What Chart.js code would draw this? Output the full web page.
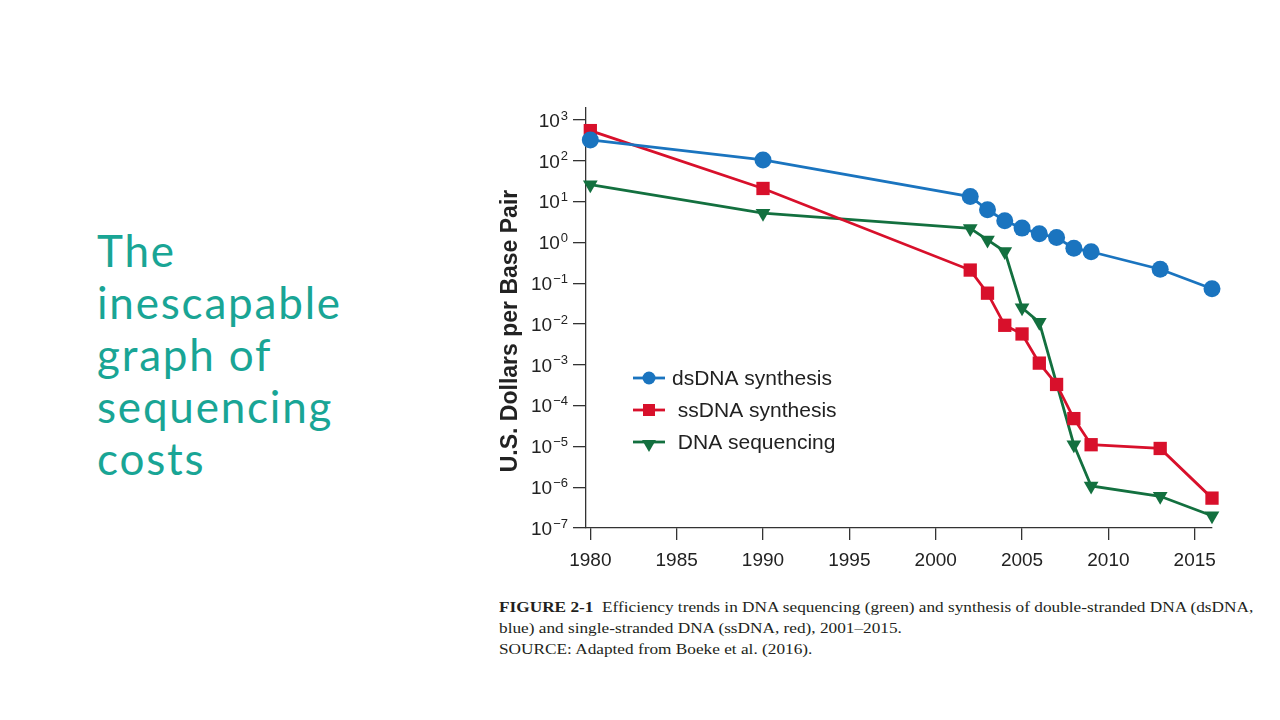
<!DOCTYPE html>
<html>
<head>
<meta charset="utf-8">
<script src="https://cdn.jsdelivr.net/npm/chart.js@4.4.1/dist/chart.umd.min.js"></script>
<style>
  body { margin: 0; width: 1280px; height: 720px; background: #fff; position: relative; overflow: hidden; }
  #heading {
    position: absolute; left: 97px; top: 224px;
    font-family: Lato, "Open Sans", sans-serif; font-size: 44px; line-height: 52px;
    letter-spacing: 1.8px; color: #19a595;
  }
  #chart-wrap { position: absolute; left: 490px; top: 96px; width: 750px; height: 484px; }
  #caption {
    position: absolute; left: 499px; top: 597px;
    font-family: "Liberation Serif", "Times New Roman", serif; font-size: 15px; line-height: 21px;
    color: #231f20; white-space: nowrap;
    transform: scaleX(1.15); transform-origin: left top;
  }
</style>
</head>
<body>
<div id="heading">The<br>inescapable<br>graph of<br>sequencing<br>costs</div>
<div id="chart-wrap"><canvas id="cost-chart" width="750" height="484"></canvas></div>
<div id="caption"><b>FIGURE 2-1</b>&nbsp; Efficiency trends in DNA sequencing (green) and synthesis of double-stranded DNA (dsDNA,<br>blue) and single-stranded DNA (ssDNA, red), 2001–2015.<br>SOURCE: Adapted from Boeke et al. (2016).</div>

<script>
// Cost per base pair (USD)
const dsYears = [1980, 1990, 2002, 2003, 2004, 2005, 2006, 2007, 2008, 2009, 2013, 2016];
const dsCost = [324, 105, 13.3, 6.3, 3.4, 2.24, 1.62, 1.32, 0.72, 0.59, 0.22, 0.073];

const ssYears = [1980, 1990, 2002, 2003, 2004, 2005, 2006, 2007, 2008, 2009, 2013, 2016];
const ssCost = [550, 21, 0.21, 0.057, 0.0093, 0.0057, 0.0011, 0.00033, 0.000048, 0.000011, 0.0000089, 0.00000054];

const seqYears = [1980, 1990, 2002, 2003, 2004, 2005, 2006, 2008, 2009, 2013, 2016];
const seqCost = [26, 5.2, 2.2, 1.15, 0.6, 0.025, 0.011, 0.000011, 0.00000107, 0.0000006, 0.0000002];

const seriesLabels = ["dsDNA synthesis", " ssDNA synthesis", " DNA sequencing"];
const seriesColors = ["#1a74bf", "#d8102b", "#13703f"];
const seriesMarkers = ["circle", "rect", "triangle"];

const xTicks = [1980, 1985, 1990, 1995, 2000, 2005, 2010, 2015];
const yTickExps = [-7, -6, -5, -4, -3, -2, -1, 0, 1, 2, 3];

const axisColor = "#333";
const sansFont = "'Liberation Sans', Arial, Helvetica, sans-serif";

function toPoints(xs, ys) {
  return xs.map((x, i) => ({ x: x, y: ys[i] }));
}

// y tick labels as 10 with a raised exponent
const powerLabels = {
  id: "powerLabels",
  afterDraw(chart) {
    const ctx = chart.ctx;
    const yScale = chart.scales.y;
    ctx.save();
    ctx.fillStyle = "#222";
    ctx.textBaseline = "middle";
    ctx.textAlign = "left";
    const right = yScale.right - 18;
    yScale.ticks.forEach(t => {
      const py = yScale.getPixelForValue(t.value);
      const exp = Math.round(Math.log10(t.value)).toString().replace("-", "\u2212");
      ctx.font = "13px " + sansFont;
      const ew = ctx.measureText(exp).width;
      ctx.font = "19px " + sansFont;
      const bw = ctx.measureText("10").width;
      ctx.fillText("10", right - ew - 1 - bw, py + 1.5);
      ctx.font = "13px " + sansFont;
      ctx.fillText(exp, right - ew, py - 4);
    });
    ctx.restore();
  }
};

// rotated y axis title
const yTitle = {
  id: "yTitle",
  afterDraw(chart) {
    const ctx = chart.ctx;
    ctx.save();
    ctx.translate(27, 235);
    ctx.rotate(-Math.PI / 2);
    ctx.font = "bold 23px " + sansFont;
    ctx.fillStyle = "#222";
    ctx.textAlign = "center";
    ctx.textBaseline = "alphabetic";
    ctx.fillText("U.S. Dollars per Base Pair", 0, 0);
    ctx.restore();
  }
};

// legend drawn inside the plot: line + marker + label
const insideLegend = {
  id: "insideLegend",
  afterDraw(chart) {
    const ctx = chart.ctx;
    const area = chart.chartArea;
    const x0 = area.left + 47;
    const y0 = area.top + 270;
    const markerSize = [6.5, 8.5, 8];
    ctx.save();
    seriesLabels.forEach((label, i) => {
      const y = y0 + i * 32;
      ctx.strokeStyle = seriesColors[i];
      ctx.lineWidth = 2.8;
      ctx.beginPath();
      ctx.moveTo(x0, y);
      ctx.lineTo(x0 + 32, y);
      ctx.stroke();
      ctx.fillStyle = seriesColors[i];
      Chart.helpers.drawPoint(ctx, {
        pointStyle: seriesMarkers[i],
        radius: markerSize[i],
        rotation: seriesMarkers[i] === "triangle" ? 180 : 0,
        borderWidth: 0
      }, x0 + 16, i === 2 ? y + 2 : y);
      ctx.fillStyle = "#222";
      ctx.font = "21px " + sansFont;
      ctx.textAlign = "left";
      ctx.textBaseline = "middle";
      ctx.fillText(label, x0 + 39, y + 1);
    });
    ctx.restore();
  }
};

function lineSet(i, xs, ys, radius) {
  return {
    label: seriesLabels[i].trim(),
    data: toPoints(xs, ys),
    borderColor: seriesColors[i],
    backgroundColor: seriesColors[i],
    borderWidth: 2.8,
    pointStyle: seriesMarkers[i],
    pointRadius: radius,
    pointHoverRadius: radius,
    pointBorderWidth: 0,
    pointRotation: seriesMarkers[i] === "triangle" ? 180 : 0,
    tension: 0,
    clip: false
  };
}

const costChart = new Chart(document.getElementById("cost-chart"), {
  type: "line",
  data: {
    datasets: [
      lineSet(0, dsYears, dsCost, 8.5),
      lineSet(1, ssYears, ssCost, 9.4),
      lineSet(2, seqYears, seqCost, 8.5)
    ]
  },
  options: {
    responsive: false,
    animation: false,
    devicePixelRatio: 1,
    layout: { padding: { left: 0, top: 12, right: 28, bottom: 0 } },
    plugins: {
      legend: { display: false },
      tooltip: { enabled: false }
    },
    scales: {
      x: {
        type: "linear",
        min: 1979.75,
        max: 2016,
        afterBuildTicks: scale => { scale.ticks = xTicks.map(v => ({ value: v })); },
        afterFit: scale => { scale.height = 52; },
        border: { display: true, color: axisColor, width: 1.3 },
        grid: { drawOnChartArea: false, drawTicks: true, tickLength: 12, color: axisColor, lineWidth: 1.3 },
        ticks: {
          color: "#222",
          font: { family: sansFont, size: 19 },
          padding: 9,
          maxRotation: 0,
          callback: v => String(v)
        }
      },
      y: {
        type: "logarithmic",
        min: 1e-7,
        max: 1970,
        afterBuildTicks: scale => { scale.ticks = yTickExps.map(e => ({ value: Math.pow(10, e) })); },
        afterFit: scale => { scale.width = 96; },
        border: { display: true, color: axisColor, width: 1.3 },
        grid: { drawOnChartArea: false, drawTicks: true, tickLength: 13, color: axisColor, lineWidth: 1.3 },
        ticks: { display: false }
      }
    }
  },
  plugins: [powerLabels, yTitle, insideLegend]
});
</script>
</body>
</html>
